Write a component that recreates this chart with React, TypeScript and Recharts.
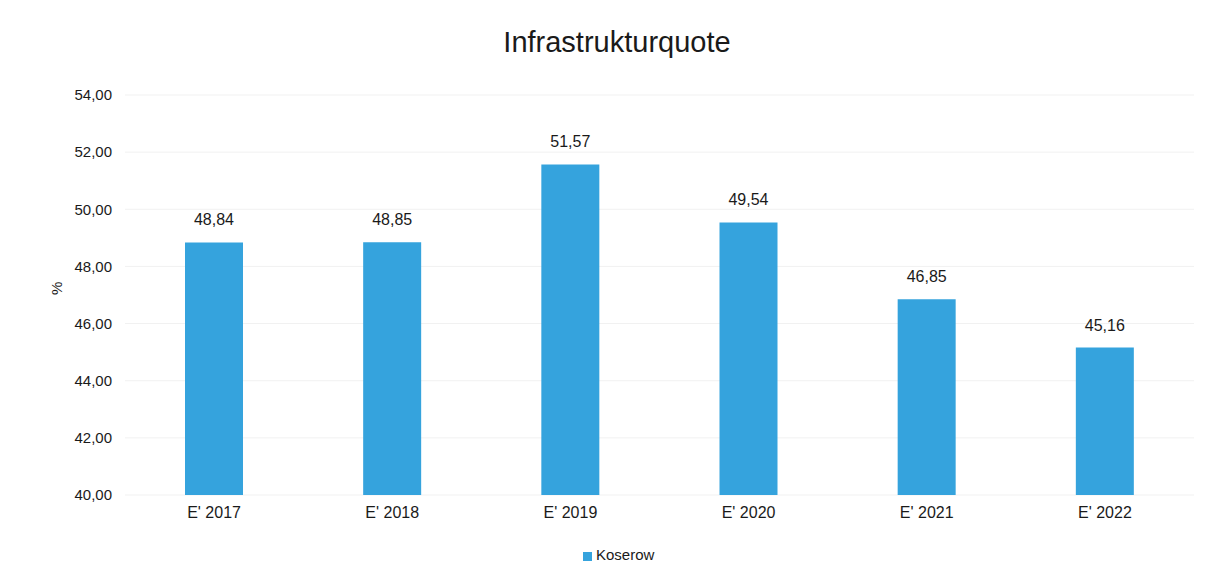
import React from 'react';
import { BarChart, Bar, XAxis, YAxis, CartesianGrid, Legend, LabelList } from 'recharts';

const categories = ["E' 2017", "E' 2018", "E' 2019", "E' 2020", "E' 2021", "E' 2022"];
const koserow = [48.84, 48.85, 51.57, 49.54, 46.85, 45.16];
const yTicks = [40, 42, 44, 46, 48, 50, 52, 54];
const seriesName = 'Koserow';
const title = 'Infrastrukturquote';

const data = categories.map((c, i) => ({ name: c, value: koserow[i] }));
const fmt = (v: number) => v.toFixed(2).replace('.', ',');
const FONT = '"Liberation Sans", Arial, sans-serif';

export default function App() {
  return (
    <div style={{ position: 'absolute', left: 0, top: 0, width: 1216, height: 584, background: '#fff', fontFamily: FONT }}>
      <div style={{ position: 'absolute', left: 0, width: 1216, top: 26, textAlign: 'center', fontSize: 29, lineHeight: '32px', color: '#1a1a1a', paddingLeft: 18, boxSizing: 'border-box' }}>
        {title}
      </div>
      <BarChart width={1216} height={584} data={data} margin={{ top: 95, right: 22, bottom: 42, left: 0 }}>
        <CartesianGrid vertical={false} stroke="#f1f1f1" />
        <XAxis dataKey="name" axisLine={false} tickLine={false} tickSize={0} tickMargin={12} height={30}
          tick={{ fill: '#1a1a1a', fontSize: 16, fontFamily: FONT }} />
        <YAxis domain={[40, 54]} ticks={yTicks} width={125} axisLine={false} tickLine={false} tickSize={0} tickMargin={13}
          tickFormatter={fmt} tick={{ fill: '#1a1a1a', fontSize: 15, fontFamily: FONT }}
          label={{ value: '%', angle: -90, position: 'insideLeft', offset: 57, fill: '#1a1a1a', fontSize: 15, fontFamily: FONT }} />
        <Legend wrapperStyle={{ top: 546, left: 583, width: 'auto', fontFamily: FONT, fontSize: 15, color: '#1a1a1a', lineHeight: '17px' }} iconType="square" iconSize={9}
          formatter={(v) => <span style={{ color: '#1a1a1a' }}>{v}</span>} />
        <Bar dataKey="value" name={seriesName} fill="#35a3dd" barSize={58} isAnimationActive={false}>
          <LabelList dataKey="value" position="top" offset={17} formatter={(v: any) => fmt(Number(v))}
            style={{ fill: '#1a1a1a', fontSize: 16, fontFamily: FONT }} />
        </Bar>
      </BarChart>
    </div>
  );
}
